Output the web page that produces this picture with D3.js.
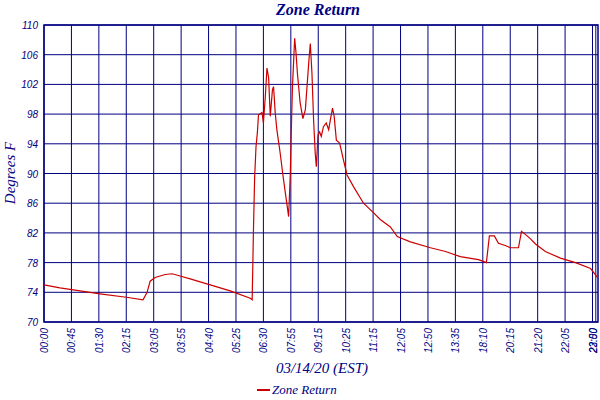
<!DOCTYPE html><html><head><meta charset="utf-8">
<script src="https://cdn.jsdelivr.net/npm/d3@7"></script>
<style>body{margin:0;background:#fff}</style></head><body><svg id="c" width="600" height="400"></svg>
<script>
const tickLabels=["00:00","00:45","01:30","02:15","03:05","03:55","04:40","05:25","06:30","07:55","09:15","10:25","11:15","12:05","12:50","13:35","18:10","20:15","21:20","22:05","22:50","23:00"];
const tickPos=[0,1,2,3,4,5,6,7,8,9,10,11,12,13,14,15,16,17,18,19,20,20.12];
const yTicks=[70,74,78,82,86,90,94,98,102,106,110];
const slot=[0,0.58,1.13,2.04,3.07,3.61,3.76,3.87,4.05,4.42,4.67,4.96,5.33,6.06,6.79,7.52,7.59,7.64,7.68,7.73,7.78,7.82,7.95,8.00,8.07,8.13,8.19,8.25,8.33,8.37,8.43,8.49,8.61,8.70,8.80,8.92,8.98,9.03,9.06,9.14,9.19,9.24,9.34,9.44,9.53,9.65,9.71,9.77,9.83,9.89,9.93,9.99,10.05,10.11,10.19,10.29,10.38,10.44,10.52,10.58,10.66,10.78,10.92,11.05,11.29,11.65,12.02,12.26,12.63,12.88,13.36,14.09,14.64,15.18,15.84,15.99,16.13,16.24,16.42,16.57,16.82,17.01,17.30,17.41,17.55,17.74,17.92,18.28,18.83,19.38,19.93,20.18];
const temp=[75.0,74.6,74.3,73.8,73.3,73.0,74.0,75.5,76.0,76.4,76.5,76.2,75.8,75.0,74.2,73.2,73.0,82.9,89.4,93.6,95.5,97.9,98.2,96.8,100.4,104.2,102.9,97.7,101.3,101.7,98.2,95.9,92.8,90.1,87.4,84.2,89.8,97.7,101.7,108.2,106.2,103.5,99.5,97.4,98.6,104.8,107.5,103.5,97.2,92.7,90.9,95.2,95.6,95.0,96.3,96.8,95.9,97.2,98.8,97.7,94.5,94.1,91.8,89.8,88.2,86.0,84.7,83.8,82.8,81.5,80.8,80.0,79.5,78.8,78.4,78.2,78.0,81.6,81.6,80.6,80.3,80.0,80.0,82.2,81.8,81.2,80.5,79.5,78.6,78.0,77.2,76.0];
const navy="#000080";
const svg=d3.select("#c");
const L=44,R=598,T=25,B=322;
const x=d3.scaleLinear().domain([0,20.2]).range([L,R]);
const y=d3.scaleLinear().domain([70,110]).range([B,T]);
svg.append("g").selectAll("line").data(tickPos).join("line").attr("x1",d=>x(d)).attr("x2",d=>x(d)).attr("y1",T).attr("y2",B).attr("stroke",navy).attr("stroke-width",1);
svg.append("g").selectAll("line").data(yTicks).join("line").attr("x1",L).attr("x2",R).attr("y1",d=>y(d)).attr("y2",d=>y(d)).attr("stroke",navy).attr("stroke-width",1);
svg.append("rect").attr("x",L).attr("y",T).attr("width",R-L).attr("height",B-T).attr("fill","none").attr("stroke",navy).attr("stroke-width",1.5);
svg.append("g").selectAll("text").data(yTicks).join("text").attr("x",L-6).attr("y",d=>y(d)+4).attr("text-anchor","end").attr("font-family","Liberation Sans").attr("font-style","italic").attr("font-size",10).attr("fill",navy).text(d=>d);
svg.append("g").selectAll("text").data(tickLabels).join("text").attr("transform",(d,i)=>`translate(${Math.min(x(tickPos[i])+4,597)},${B+6}) rotate(-90)`).attr("text-anchor","end").attr("font-family","Liberation Sans").attr("font-style","italic").attr("font-size",10).attr("fill",navy).text(d=>d);
const line=d3.line().x((d,i)=>x(slot[i])).y(d=>y(d));
svg.append("path").datum(temp).attr("d",line).attr("fill","none").attr("stroke","#cc0000").attr("stroke-width",1.2);
svg.append("text").attr("x",318).attr("y",15).attr("text-anchor","middle").attr("font-family","Liberation Serif").attr("font-style","italic").attr("font-weight","bold").attr("font-size",16).attr("fill",navy).text("Zone Return");
svg.append("text").attr("x",322).attr("y",373).attr("text-anchor","middle").attr("font-family","Liberation Serif").attr("font-style","italic").attr("font-size",15).attr("fill",navy).text("03/14/20 (EST)");
svg.append("text").attr("transform","translate(15,173) rotate(-90)").attr("text-anchor","middle").attr("font-family","Liberation Serif").attr("font-style","italic").attr("font-size",15).attr("fill",navy).text("Degrees F");
svg.append("line").attr("x1",257).attr("x2",270).attr("y1",390).attr("y2",390).attr("stroke","#cc0000").attr("stroke-width",2);
svg.append("text").attr("x",272).attr("y",394).attr("font-family","Liberation Serif").attr("font-style","italic").attr("font-size",13).attr("fill",navy).text("Zone Return");
</script></body></html>
